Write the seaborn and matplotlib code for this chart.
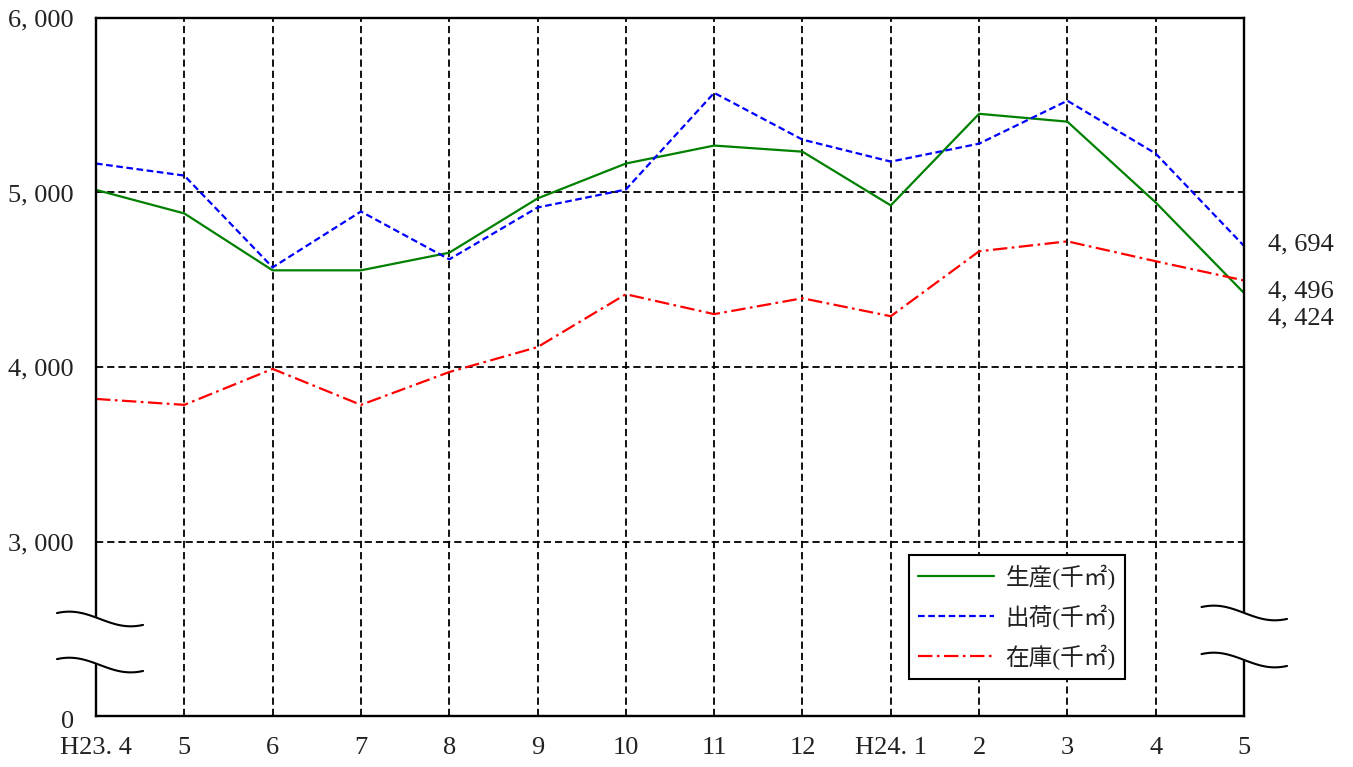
import numpy as np
import pandas as pd
import seaborn as sns
import matplotlib.pyplot as plt
import matplotlib.transforms as mtransforms

# monthly data (thousand m2)
months = ['H23. 4', '5', '6', '7', '8', '9', '10', '11', '12', 'H24. 1', '2', '3', '4', '5']
production = [5015, 4880, 4554, 4554, 4655, 4966, 5166, 5269, 5234, 4926, 5451, 5406, 4943, 4424]
shipment = [5166, 5097, 4571, 4891, 4617, 4914, 5017, 5571, 5303, 5177, 5280, 5526, 5223, 4694]
stock = [3817, 3783, 3989, 3783, 3971, 4114, 4417, 4303, 4394, 4291, 4663, 4720, 4606, 4496]

y_ticks = [2000, 3000, 4000, 5000, 6000]
y_labels = ['0', '3, 000', '4, 000', '5, 000', '6, 000']

series = [
    ('生産(千㎡)', production, '#008000', '-', -18),
    ('出荷(千㎡)', shipment, '#0000ff', (0, (3, 1.6)), 1),
    ('在庫(千㎡)', stock, '#ff0000', (0, (6.5, 2, 1.2, 2)), -8),
]

sns.set_style('white')
plt.rcParams['font.family'] = ['Liberation Serif', 'Noto Sans CJK JP']

fig = plt.figure(figsize=(13.53, 7.67), dpi=100)
ax = fig.add_axes([96 / 1353, 1 - 716 / 767, 1148 / 1353, 698 / 767])

x = np.arange(len(months))
for label, vals, color, ls, _ in series:
    df = pd.DataFrame({'x': x, 'v': vals})
    sns.lineplot(data=df, x='x', y='v', ax=ax, color=color, linestyle=ls,
                 linewidth=1.6, label=label)

ax.set_xlim(0, len(months) - 1)
ax.set_ylim(2000, 6000)
ax.set_xticks(x)
ax.set_xticklabels(months)
ax.set_yticks(y_ticks)
ax.set_yticklabels(y_labels)
ax.set_xlabel('')
ax.set_ylabel('')
ax.tick_params(axis='both', length=0, labelsize=19, labelcolor='#222222')
ax.tick_params(axis='y', pad=16)
ax.tick_params(axis='x', pad=15)

# nudge the "0" label a little down like the original
zero_lbl = ax.get_yticklabels()[0]
zero_lbl.set_transform(zero_lbl.get_transform() +
                       mtransforms.ScaledTranslation(0, -4 / 100, fig.dpi_scale_trans))

ax.grid(True, color='black', linestyle=(0, (4, 2.2)), linewidth=1.3)
ax.set_axisbelow(True)
for s in ax.spines.values():
    s.set_visible(True)
    s.set_color('black')
    s.set_linewidth(1.7)

# last-value labels
for label, vals, color, ls, dy in series:
    ax.annotate(f'{vals[-1]:,}'.replace(',', ', '), xy=(x[-1], vals[-1]),
                xytext=(17, dy), textcoords='offset points', va='center',
                ha='left', fontsize=19, color='#222222', annotation_clip=False)

# axis break marks
def draw_break(x0, x1, y_hi, y_lo, amp=0.0105):
    t = np.linspace(0, 1, 120)
    xs = x0 + t * (x1 - x0)
    w = amp * np.cos(np.pi * (1.4 * t - 0.2))
    ax.fill(np.concatenate([xs, xs[::-1]]),
            np.concatenate([y_hi + w, (y_lo + w)[::-1]]),
            color='white', transform=ax.transAxes, clip_on=False, zorder=5)
    for yc in (y_hi, y_lo):
        ax.plot(xs, yc + w, color='black', lw=1.5, transform=ax.transAxes,
                clip_on=False, zorder=6)

draw_break(-0.034, 0.041, 0.139, 0.073)
draw_break(0.963, 1.0375, 0.1476, 0.0802)

leg = ax.legend(loc='upper left', bbox_to_anchor=(0.708, 0.2307), frameon=True,
                fancybox=False, edgecolor='black', framealpha=1, borderaxespad=0,
                fontsize=17, handlelength=3.2, labelspacing=0.62, borderpad=0.4,
                handletextpad=0.5)
leg.get_frame().set_linewidth(1.5)
for t in leg.get_texts():
    t.set_color('#222222')

plt.savefig('out.png', dpi=100)
plt.close()
